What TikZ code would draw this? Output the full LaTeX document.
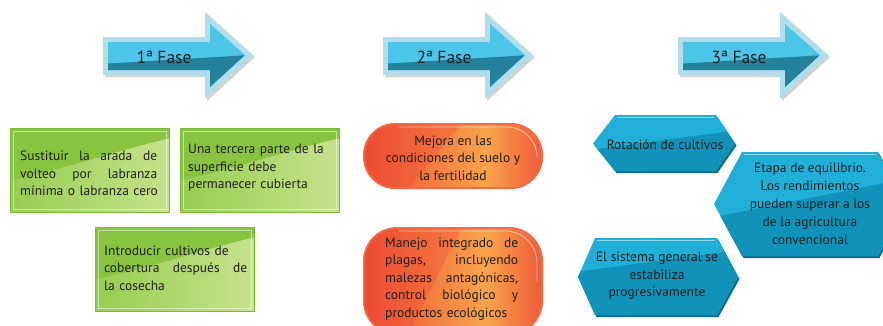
\documentclass[tikz,border=0pt]{standalone}
\usepackage{fontspec}
\setmainfont{PT Sans}
\definecolor{txt}{HTML}{231F20}
\definecolor{abord}{HTML}{B2DEEB}
\definecolor{atop}{HTML}{4CC5E9}
\definecolor{abot}{HTML}{23819C}
\definecolor{gborder}{HTML}{7DBB3A}
\definecolor{gdark}{HTML}{88C440}
\definecolor{gmid}{HTML}{97CD51}
\definecolor{glight}{HTML}{C6E38D}
\definecolor{pborder}{HTML}{F36B45}
\definecolor{pred}{HTML}{EE4B34}
\definecolor{porange}{HTML}{F8A44B}
\definecolor{pred2}{HTML}{F05A39}
\definecolor{htop}{HTML}{1FAFD7}
\definecolor{hbot}{HTML}{1192B8}
\definecolor{hshadow}{HTML}{0A6A8A}
\newcommand\jl[2]{\leavevmode\hbox to #1{#2}}
\newcommand\gbox[4]{%
  \fill[gborder] (#1,#2) rectangle (#3,#4);
  \begin{scope}
    \clip ({#1+1.2},{#2+1.2}) rectangle ({#3-1.2},{#4-1.2});
    \fill[gdark] (#1,#2) rectangle (#3,#4);
    \shade[left color=gmid, right color=glight]
      (#1,{#2+0.62*(#4-#2)}) .. controls ({#1+0.4*(#3-#1)},{#2+0.45*(#4-#2)}) and ({#1+0.7*(#3-#1)},{#2+0.25*(#4-#2)}) .. (#3,{#2+0.12*(#4-#2)})
      -- (#3,#4) -- (#1,#4) -- cycle;
  \end{scope}
  \draw[white, opacity=0.5, line width=1.2pt] ({#1+3.5},{#2+3.5}) rectangle ({#3-3.5},{#4-3.5});
}
\newcommand\pill[6]{% x0 y0 x1 y1 r r-2
  \fill[pborder, rounded corners=#5] (#1,#2) rectangle (#3,#4);
  \begin{scope}
    \clip[rounded corners=#6] ({#1+2},{#2+2}) rectangle ({#3-2},{#4-2});
    \shade[left color=pred, right color=porange] (#1,#2) rectangle ({#1+0.68*(#3-#1)},#4);
    \shade[left color=porange, right color=pred2] ({#1+0.68*(#3-#1)},#2) rectangle (#3,#4);
    \fill[pred, opacity=0.35] (#1,#2) -- ({#1+0.55*(#3-#1)},#2) -- ({#1+0.25*(#3-#1)},#4) -- (#1,#4) -- cycle;
  \end{scope}
  \draw[white, opacity=0.55, line width=0.8pt, rounded corners=#6] ({#1+0.2*(#3-#1)},{#2+4}) -- ({#3-6},{#2+4}) -- ({#3-6},{0.5*(#2+#4)});
}
\tikzset{
  every node/.style={text=txt, inner sep=0pt, font=\fontsize{13.5}{17.5}\selectfont},
  fasetext/.style={font=\fontsize{17.5}{21}\selectfont},
  lefttext/.style={align=left, text width=170pt, anchor=west}
}
\begin{document}
\begin{tikzpicture}[x=1pt,y=-1pt]
\useasboundingbox (0,0) rectangle (883,325);
\clip (0,0) rectangle (883,325);
\fill[white] (0,0) rectangle (883,325);

% phase arrows
\foreach \dx/\lab/\nm in {0/1ª Fase/fase1, 280/2ª Fase/fase2, 575/3ª Fase/fase3}{
  \begin{scope}[xshift=\dx]
    \fill[black, opacity=0.18] (105,39) -- (207,39) -- (207,14) -- (255,57) -- (207,101) -- (207,77) -- (105,77) -- cycle;
    \fill[abord] (103,37) -- (205,37) -- (205,12) -- (253,55) -- (205,99) -- (205,75) -- (103,75) -- cycle;
    \begin{scope}
      \clip (108,42) -- (210,42) -- (210,24) -- (245,55) -- (210,87) -- (210,70) -- (108,70) -- cycle;
      \fill[atop] (100,10) rectangle (260,100);
      \fill[abot] (100,64) -- (250,55) -- (260,110) -- (100,110) -- cycle;
    \end{scope}
    \node[fasetext] (\nm) at (164,57) {\lab};
  \end{scope}
}

% green boxes
\gbox{10}{128}{170}{213}
\gbox{180}{128}{340}{213}
\gbox{95}{227}{255}{312}
\node[lefttext] (g1) at (20,173.5)
  {\jl{137pt}{Sustituir\hfill la\hfill arada\hfill de}\\ \jl{137pt}{volteo\hfill por\hfill labranza}\\ mínima o labranza cero};
\node[lefttext] (g2) at (188,168)
  {Una tercera parte de la\\ superficie debe\\ permanecer cubierta};
\node[lefttext] (g3) at (104,268)
  {Introducir cultivos de\\ \jl{143pt}{cobertura\hfill después\hfill de}\\ la cosecha};

% orange pills
\pill{363}{123}{543}{189}{32}{30}
\pill{363}{227}{543}{335}{34}{32}
\node[align=center] (o1) at (453,158)
  {Mejora en las\\ condiciones del suelo y\\ la fertilidad};
\node[lefttext] (o2) at (385,279)
  {\jl{133pt}{Manejo\hfill integrado\hfill de}\\ \jl{133pt}{plagas,\hfill incluyendo}\\ \jl{133pt}{malezas\hfill antagónicas,}\\ \jl{133pt}{control\hfill biológico\hfill y}\\ productos ecológicos};

% hexagons
\foreach \pts/\tl/\tr/\sa/\sb/\xl/\xr in {
  {(593,143.5) -- (615,115) -- (716,115) -- (735,143.5) -- (716,171) -- (615,171)}/615/716/150/130/590/740,
  {(714,204) -- (742,152) -- (878,152) -- (905,204) -- (878,256) -- (742,256)}/742/878/218/178/710/910,
  {(578,277) -- (595,238) -- (717,238) -- (738,277) -- (717,315) -- (595,315)}/595/717/272/250/575/740}{
  \fill[hshadow] [shift={(1.5,2)}] \pts -- cycle;
  \begin{scope}
    \clip \pts -- cycle;
    \fill[htop] (\xl,100) rectangle (\xr,330);
    \fill[hbot] (\xl,\sa) -- (\xr,\sb) -- (\xr,330) -- (\xl,330) -- cycle;
  \end{scope}
}
\draw[white, opacity=0.5, line width=0.8pt] (617,117) -- (714,117);
\draw[white, opacity=0.5, line width=0.8pt] (744,154) -- (876,154);
\draw[white, opacity=0.5, line width=0.8pt] (597,240) -- (715,240);
\node (h1) at (665,145) {Rotación de cultivos};
\node[align=center, font=\fontsize{13.5}{18}\selectfont] (h2) at (810,204)
  {Etapa de equilibrio.\\ Los rendimientos\\ pueden superar a los\\ de la agricultura\\ convencional};
\node[align=center] (h3) at (657,276)
  {El sistema general se\\ estabiliza\\ progresivamente};
\end{tikzpicture}
\end{document}
